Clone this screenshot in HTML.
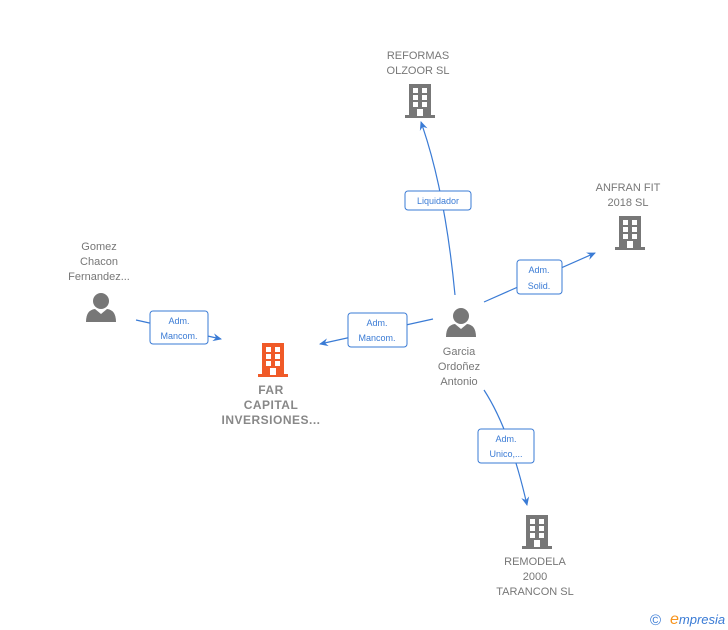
<!DOCTYPE html>
<html><head><meta charset="utf-8"><style>
body{margin:0;background:#fff;}
svg{display:block;font-family:"Liberation Sans",sans-serif;}
.n{font-size:11px;fill:#777;text-anchor:middle;}
.b{font-weight:bold;fill:#888;font-size:12px;letter-spacing:0.5px}
.l{font-size:9px;fill:#3a7bd5;text-anchor:middle;}
.e{stroke:#3a7bd5;stroke-width:1.2;fill:none;}
.bx{fill:#fff;stroke:#3a7bd5;stroke-width:1;}
</style></head><body>
<svg width="728" height="630" viewBox="0 0 728 630">
<defs>
<g id="bld">
<rect x="0" y="31" width="30" height="3"/>
<rect x="4" y="0" width="22" height="33"/>
<g fill="#fff">
<rect x="8" y="4" width="5" height="5"/><rect x="17" y="4" width="5" height="5"/>
<rect x="8" y="11" width="5" height="5"/><rect x="17" y="11" width="5" height="5"/>
<rect x="8" y="18" width="5" height="5"/><rect x="17" y="18" width="5" height="5"/>
<rect x="12" y="25" width="6" height="7"/>
</g>
</g>
<g id="per">
<circle cx="0" cy="-7" r="8"/>
<path d="M-15 14 Q-15 2 -6 1 L0 6 L6 1 Q15 2 15 14 Z"/>
</g>
<marker id="ar" markerWidth="10" markerHeight="10" refX="8" refY="5" orient="auto" markerUnits="userSpaceOnUse">
<path d="M0 1 L9 5 L0 9 L3 5 Z" fill="#3a7bd5"/>
</marker>
</defs>

<path class="e" d="M136 320 L221 339" marker-end="url(#ar)"/>
<path class="e" d="M433 319 L320 344" marker-end="url(#ar)"/>
<path class="e" d="M455 295 Q445 190 421 122" marker-end="url(#ar)"/>
<path class="e" d="M484 302 L595 253" marker-end="url(#ar)"/>
<path class="e" d="M484 390 Q510 430 527 505" marker-end="url(#ar)"/>

<rect class="bx" x="150" y="311" width="58" height="33" rx="3"/>
<text class="l" x="179" y="324">Adm.</text><text class="l" x="179" y="339">Mancom.</text>
<rect class="bx" x="348" y="313" width="59" height="34" rx="3"/>
<text class="l" x="377" y="326">Adm.</text><text class="l" x="377" y="341">Mancom.</text>
<rect class="bx" x="405" y="191" width="66" height="19" rx="3"/>
<text class="l" x="438" y="204">Liquidador</text>
<rect class="bx" x="517" y="260" width="45" height="34" rx="3"/>
<text class="l" x="539" y="273">Adm.</text><text class="l" x="539" y="289">Solid.</text>
<rect class="bx" x="478" y="429" width="56" height="34" rx="3"/>
<text class="l" x="506" y="442">Adm.</text><text class="l" x="506" y="457">Unico,...</text>

<use href="#bld" x="405" y="84" fill="#777"/>
<text class="n" x="418" y="59">REFORMAS</text><text class="n" x="418" y="74">OLZOOR SL</text>

<use href="#bld" x="615" y="216" fill="#777"/>
<text class="n" x="628" y="191">ANFRAN FIT</text><text class="n" x="628" y="206">2018  SL</text>

<use href="#bld" x="522" y="515" fill="#777"/>
<text class="n" x="535" y="565">REMODELA</text><text class="n" x="535" y="580">2000</text><text class="n" x="535" y="595">TARANCON  SL</text>

<use href="#bld" x="258" y="343" fill="#f05a28"/>
<text class="n b" x="271" y="394">FAR</text><text class="n b" x="271" y="409">CAPITAL</text><text class="n b" x="271" y="424">INVERSIONES...</text>

<use href="#per" x="101" y="308" fill="#777"/>
<text class="n" x="99" y="250">Gomez</text><text class="n" x="99" y="265">Chacon</text><text class="n" x="99" y="280">Fernandez...</text>

<use href="#per" x="461" y="323" fill="#777"/>
<text class="n" x="459" y="355">Garcia</text><text class="n" x="459" y="370">Ordoñez</text><text class="n" x="459" y="385">Antonio</text>

<text x="650" y="625" font-size="15" fill="#3a7bd5">©</text>
<text x="670" y="624" font-size="13" font-style="italic" fill="#3a7bd5"><tspan fill="#f7941d" font-size="16">e</tspan>mpresia</text>
</svg>
</body></html>
